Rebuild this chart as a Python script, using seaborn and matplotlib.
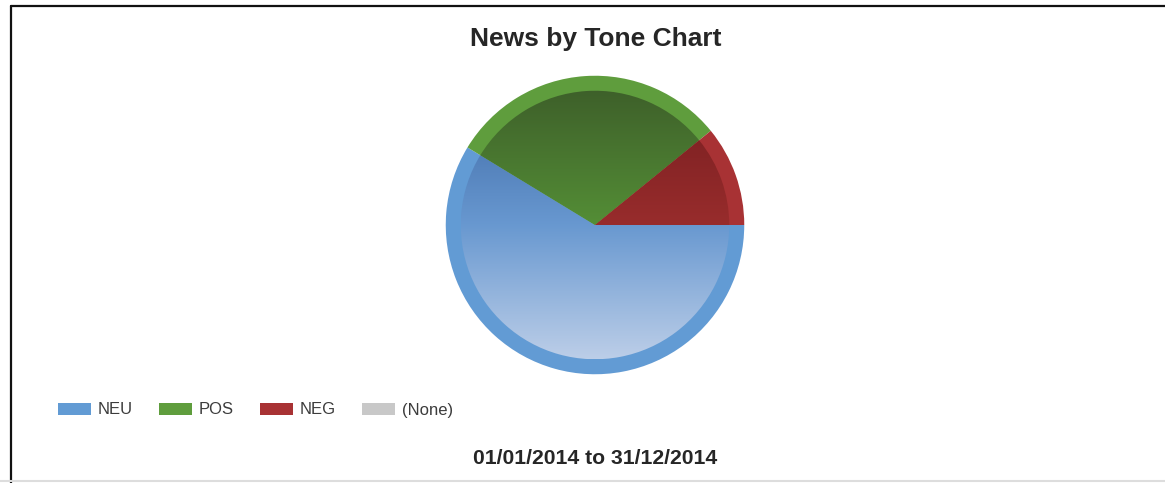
import numpy as np
import matplotlib
matplotlib.use("Agg")
import matplotlib.pyplot as plt
from matplotlib.patches import Patch
from matplotlib.lines import Line2D
import seaborn as sns

# Tone counts for the period
tones = ["NEU", "POS", "NEG", "(None)"]
counts = [54, 28, 10, 0]

# Rim colours and the top / middle / bottom shades of the glossy inner face
rim_colors = ["#629bd4", "#5f9d3d", "#a83234", "#c8c8c8"]
face_top = [(62, 105, 165), (62, 96, 42), (118, 30, 32), (170, 170, 170)]
face_mid = [(104, 152, 208), (84, 142, 54), (152, 44, 44), (200, 200, 200)]
face_bottom = [(188, 206, 232), (104, 180, 66), (180, 56, 54), (220, 220, 220)]

title = "News by Tone Chart"
period = "01/01/2014 to 31/12/2014"

sns.set_theme(style="white")
plt.rcParams["font.family"] = ["Liberation Sans", "DejaVu Sans"]

W, H = 1165, 483
fig = plt.figure(figsize=(W / 100, H / 100), dpi=100)
fig.patch.set_facecolor("white")

# pie centred at (595, 225) px, radius ~149 px
cx, cy, R = 595, 225, 150
ax = fig.add_axes([(cx - R) / W, (H - cy - R) / H, 2 * R / W, 2 * R / H])
ax.set_axis_off()

keep = [i for i, v in enumerate(counts) if v > 0]
pie_vals = [counts[i] for i in keep]
pie_cols = [rim_colors[i] for i in keep]

outer = 0.995
inner = 0.895
ax.pie(pie_vals, colors=pie_cols, radius=outer, startangle=0,
       counterclock=False, wedgeprops=dict(linewidth=0))
inner_wedges, _ = ax.pie(pie_vals, colors=["none"] * len(pie_vals), radius=inner,
                         startangle=0, counterclock=False,
                         wedgeprops=dict(linewidth=0))

# vertical shading, top to bottom, clipped to each inner wedge
t = np.linspace(0, 1, 256)
for wdg, i in zip(inner_wedges, keep):
    stops = np.array([face_top[i], face_mid[i], face_bottom[i]]) / 255.0
    rgb = np.stack([np.interp(t, [0, 0.5, 1], stops[:, k]) for k in range(3)], axis=-1)
    grad = rgb[:, None, :] * np.ones((1, 2, 1))
    im = ax.imshow(grad, extent=(-inner, inner, -inner, inner), origin="upper",
                   interpolation="bilinear", zorder=3)
    im.set_clip_path(wdg)

ax.set_xlim(-1, 1)
ax.set_ylim(-1, 1)
ax.set_aspect("auto")

# title and period caption
fig.text(596 / W, 1 - 39 / H, title, ha="center", va="center",
         fontsize=19, fontweight="bold", color="#262626")
fig.text(595 / W, 1 - 459 / H, period, ha="center", va="center",
         fontsize=15.2, fontweight="bold", color="#262626")

# legend row
handles = [Patch(facecolor=c, edgecolor="none") for c in rim_colors]
leg = fig.legend(handles, tones, loc="center left",
                 bbox_to_anchor=(43 / W, 1 - 410 / H), ncol=4, frameon=False,
                 fontsize=12, handlelength=2.0, handleheight=0.75,
                 handletextpad=0.4, columnspacing=1.55)
for txt in leg.get_texts():
    txt.set_color("#3c3c3c")

# outer frame: dark left and top edges, faint bottom edge
fig.add_artist(Line2D([11 / W, 11 / W], [0, 1 - 6 / H], color="#111111",
                      linewidth=1.6, transform=fig.transFigure))
fig.add_artist(Line2D([11 / W, 1], [1 - 6 / H, 1 - 6 / H], color="#111111",
                      linewidth=1.6, transform=fig.transFigure))
fig.add_artist(Line2D([0, 1], [1 - 481 / H, 1 - 481 / H], color="#dddddd",
                      linewidth=1.5, transform=fig.transFigure))

fig.savefig("out.png", dpi=100, facecolor="white")
